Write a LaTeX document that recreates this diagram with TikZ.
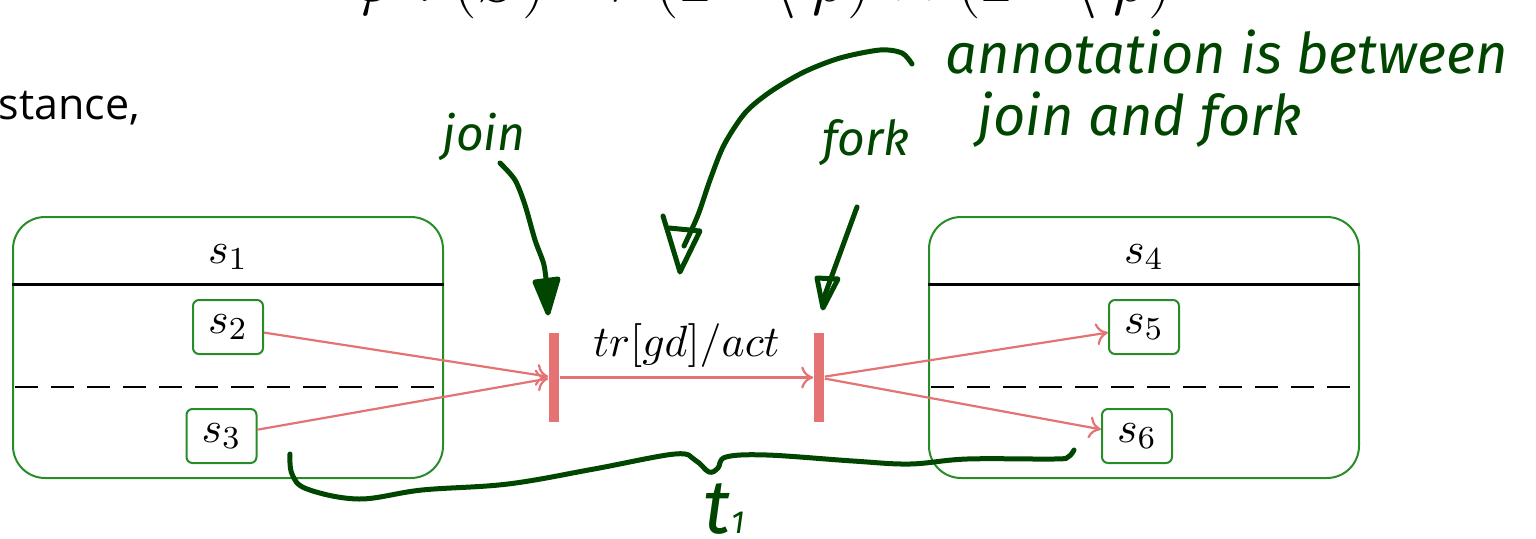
\documentclass[tikz,border=0pt]{standalone}
\usepackage{fontspec}
\usetikzlibrary{arrows.meta}
\newfontfamily\handfont{Fira Sans}
\newfontfamily\slidefont{Open Sans}
\definecolor{stgreen}{RGB}{40,140,40}
\definecolor{handgreen}{RGB}{0,70,0}
\definecolor{trred}{RGB}{229,115,115}
\begin{document}
\begin{tikzpicture}[x=0.25pt,y=-0.25pt,
  outerbox/.style={draw=stgreen, line width=0.5pt, rounded corners=8pt,
    minimum width=107.5pt, minimum height=65.25pt, inner sep=0pt},
  innerbox/.style={draw=stgreen, line width=0.5pt, rounded corners=1.5pt,
    minimum width=17.5pt, minimum height=13.5pt, inner sep=0pt,
    font=\fontsize{11}{13}\selectfont},
  titletext/.style={anchor=base, inner sep=0pt, font=\fontsize{11}{13}\selectfont},
  barnode/.style={fill=trred, minimum width=2.5pt, minimum height=22.25pt, inner sep=0pt},
  trans/.style={draw=trred, line width=0.55pt, -{To[length=3pt,width=5.5pt]}},
  headrule/.style={line width=0.75pt},
  seprule/.style={line width=0.5pt, dash pattern=on 5.75pt off 3.25pt},
  annot/.style={draw=handgreen, line width=1.25pt, line cap=round, line join=round},
  annottext/.style={text=handgreen, inner sep=0pt,
    font=\handfont\itshape\fontsize{14}{16}\selectfont}
]
\useasboundingbox (0,0) rectangle (1536,538);
\clip (0,0) rectangle (1536,538);

% slide fragments
\node[anchor=base west, inner sep=0pt, font=\fontsize{17}{20}\selectfont] (phi) at (352,1)
  {$\varphi : (S) \to (\mathbf{2}^{S} \setminus \rho) \times (\mathbf{2}^{S} \setminus \rho)$};
\node[anchor=base west, inner sep=0pt, font=\slidefont\fontsize{10.75}{13}\selectfont] (stance) at (-2,119) {stance,};

% composite states
\node[outerbox] (b1) at (228,347.5) {};
\node[outerbox] (b4) at (1144,347.5) {};
\node[titletext] (s1) at (228,263) {$s_1$};
\node[titletext] (s4) at (1144,263) {$s_4$};
\draw[headrule] (b1.west |- 0,284) -- (b1.east |- 0,284);
\draw[headrule] (b4.west |- 0,284) -- (b4.east |- 0,284);
\draw[seprule] (15,387) -- (b1.east |- 0,387);
\draw[seprule] (931,387) -- (b4.east |- 0,387);

\node[innerbox] (s2) at (228,327) {$s_2$};
\node[innerbox] (s3) at (221.5,436) {$s_3$};
\node[innerbox] (s5) at (1144,327) {$s_5$};
\node[innerbox] (s6) at (1137,436) {$s_6$};

\node[barnode] (join) at (554,377.5) {};
\node[barnode] (fork) at (819,377.5) {};

\draw[trans] (s2) -- (join);
\draw[trans] (s3) -- (join);
\draw[trans] (join) -- node[above=-1pt, font=\fontsize{11}{13}\selectfont] (lbl) {$tr[gd]/act$} (fork);
\draw[trans] (fork) -- (s5);
\draw[trans] (fork) -- (s6);

% handwritten annotations
\node[annottext, anchor=base, font=\handfont\itshape\fontsize{12}{14}\selectfont] (hjoin) at (484,150) {join};
\node[annottext, anchor=base, font=\handfont\itshape\fontsize{12}{14}\selectfont] (hfork) at (866,155) {fork};
\node[annottext, anchor=base west] (hnote1) at (945,73) {annotation is between};
\node[annottext, anchor=base west] (hnote2) at (977,135) {join and fork};
\node[annottext, anchor=base west] (ht1) at (703,533)
  {{\fontsize{19}{20}\selectfont t}{\fontsize{8}{9}\selectfont 1}};

\draw[annot] plot[smooth] coordinates {(500,163) (515,180) (525,205) (535,240) (544,265) (547,290)};
\draw[annot, fill=handgreen] (535,282) -- (558,279) -- (548,313) -- cycle;

\draw[annot] (857,207) -- (823,300);
\draw[annot] (817,278) -- (838,279) -- (823,308) -- cycle;

\draw[annot] plot[smooth] coordinates {(912,64) (902,53) (880,50) (840,58) (804,72) (770,92) (745,113) (724,145) (710,180) (698,215) (684,246)};
\draw[annot] (663,216) -- (680,272) -- (700,231) -- (669,228);

\draw[annot] plot[smooth, tension=0.6] coordinates {(290,454) (292,474) (307,489) (359,499) (422,490) (508,484) (594,469) (675,454) (695,460) (709,472) (718,468) (726,457) (767,455) (853,461) (910,464) (967,459) (1054,459) (1068,457) (1074,450)};
\end{tikzpicture}
\end{document}
